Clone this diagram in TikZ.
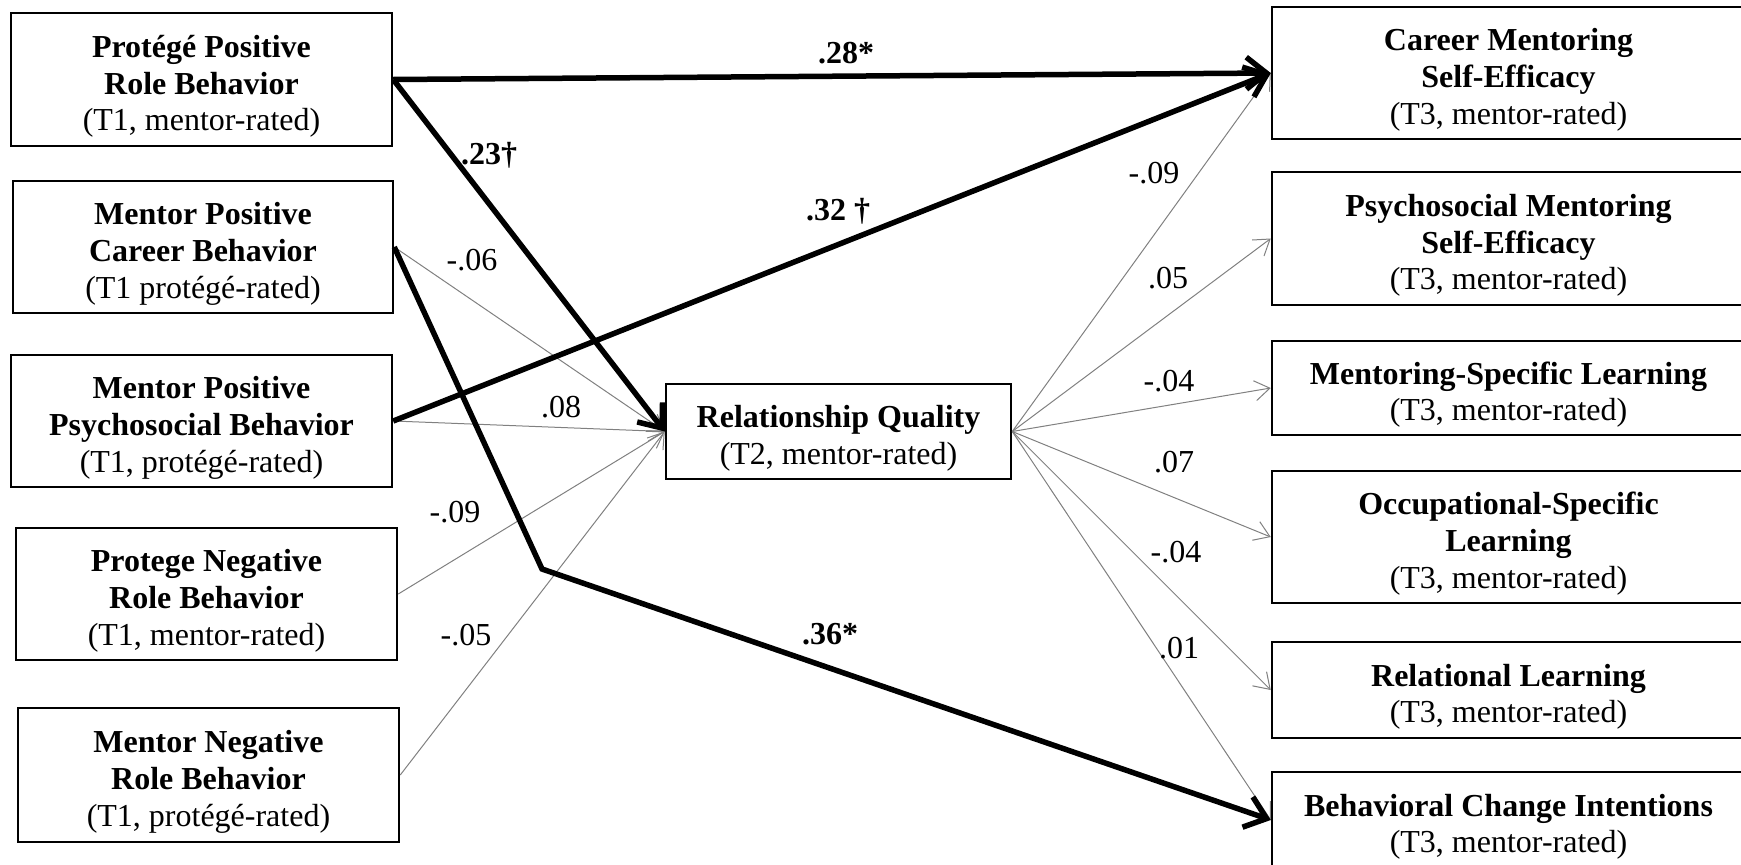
\documentclass[tikz,border=0pt]{standalone}
\usepackage{fontspec}
\setmainfont{Liberation Serif}
\usetikzlibrary{arrows.meta}
\newcommand{\tstrut}{\rule{0pt}{36pt}}
\begin{document}
\begin{tikzpicture}[x=1pt,y=-1pt,
  box/.style={draw=black, line width=2.5pt, fill=white, align=center, inner sep=0pt, font=\fontsize{32}{36.7}\selectfont},
  lbl/.style={font=\fontsize{32}{36.7}\selectfont, inner sep=0pt},
  blbl/.style={font=\fontsize{32}{36.7}\selectfont\bfseries, inner sep=0pt},
  weakarrow/.style={draw=gray, line width=1pt, -{Straight Barb[length=15pt,width=20pt]}},
  strongarrow/.style={draw=black, line width=5.5pt, -{Straight Barb[length=20pt,width=32pt]}}]
\useasboundingbox (0,0) rectangle (1741,865);
\clip (0,0) rectangle (1741,865);

% left boxes
\node[box, minimum width=381pt, minimum height=133pt] (L1) at (201.5,79.5)
  {\tstrut\textbf{Protégé Positive}\\\textbf{Role Behavior}\\(T1, mentor-rated)};
\node[box, minimum width=380pt, minimum height=132pt] (L2) at (203,247)
  {\tstrut\textbf{Mentor Positive}\\\textbf{Career Behavior}\\(T1 protégé-rated)};
\node[box, minimum width=381pt, minimum height=132pt] (L3) at (201.5,421)
  {\tstrut\textbf{Mentor Positive}\\\textbf{Psychosocial Behavior}\\(T1, protégé-rated)};
\node[box, minimum width=381pt, minimum height=132pt] (L4) at (206.5,594)
  {\tstrut\textbf{Protege Negative}\\\textbf{Role Behavior}\\(T1, mentor-rated)};
\node[box, minimum width=381pt, minimum height=134pt] (L5) at (208.5,775)
  {\tstrut\textbf{Mentor Negative}\\\textbf{Role Behavior}\\(T1, protégé-rated)};

% mediator
\node[box, minimum width=345pt, minimum height=95pt] (RQ) at (838.5,431.5)
  {\tstrut\textbf{Relationship Quality}\\(T2, mentor-rated)};

% right boxes
\node[box, minimum width=473pt, minimum height=132pt] (R1) at (1508.5,73)
  {\tstrut\textbf{Career Mentoring}\\\textbf{Self-Efficacy}\\(T3, mentor-rated)};
\node[box, minimum width=473pt, minimum height=133pt] (R2) at (1508.5,238.5)
  {\tstrut\textbf{Psychosocial Mentoring}\\\textbf{Self-Efficacy}\\(T3, mentor-rated)};
\node[box, minimum width=473pt, minimum height=94pt] (R3) at (1508.5,388)
  {\tstrut\textbf{Mentoring-Specific Learning}\\(T3, mentor-rated)};
\node[box, minimum width=473pt, minimum height=132pt] (R4) at (1508.5,537)
  {\tstrut\textbf{Occupational-Specific}\\\textbf{Learning}\\(T3, mentor-rated)};
\node[box, minimum width=473pt, minimum height=96pt] (R5) at (1508.5,690)
  {\tstrut\textbf{Relational Learning}\\(T3, mentor-rated)};
\node[box, minimum width=473pt, minimum height=96pt] (R6) at (1508.5,820)
  {\tstrut\textbf{Behavioral Change Intentions}\\(T3, mentor-rated)};

\coordinate (J) at (542,569);

% thin paths
\draw[weakarrow] (L2.east) -- (RQ.west);
\draw[weakarrow] (L3.east) -- (RQ.west);
\draw[weakarrow] (L4.east) -- (RQ.west);
\draw[weakarrow] (L5.east) -- (RQ.west);
\draw[weakarrow] (RQ.east) -- (R1.west);
\draw[weakarrow] (RQ.east) -- (R2.west);
\draw[weakarrow] (RQ.east) -- (R3.west);
\draw[weakarrow] (RQ.east) -- (R4.west);
\draw[weakarrow] (RQ.east) -- (R5.west);
\draw[weakarrow] (RQ.east) -- (R6.west);

% thick paths
\draw[strongarrow] (L1.east) -- (R1.west);
\draw[strongarrow] (L1.east) -- (RQ.west);
\draw[strongarrow] (L3.east) -- (R1.west);
\draw[strongarrow] (L2.east) -- (J) -- (R6.west);

% labels
\node[blbl] (b28) at (846,53) {.28*};
\node[blbl] (b23) at (489,155) {.23†};
\node[blbl] (b32) at (838,211) {.32 †};
\node[blbl] (b36) at (830,634) {.36*};
\node[lbl] (l06) at (472,260) {-.06};
\node[lbl] (l08) at (561,407) {.08};
\node[lbl] (l09a) at (455,512) {-.09};
\node[lbl] (l05a) at (466,635) {-.05};
\node[lbl] (r09) at (1154,173) {-.09};
\node[lbl] (r05) at (1168,278) {.05};
\node[lbl] (r04a) at (1169,381) {-.04};
\node[lbl] (r07) at (1174,462) {.07};
\node[lbl] (r04b) at (1176,552) {-.04};
\node[lbl] (r01) at (1179,648) {.01};
\end{tikzpicture}
\end{document}
